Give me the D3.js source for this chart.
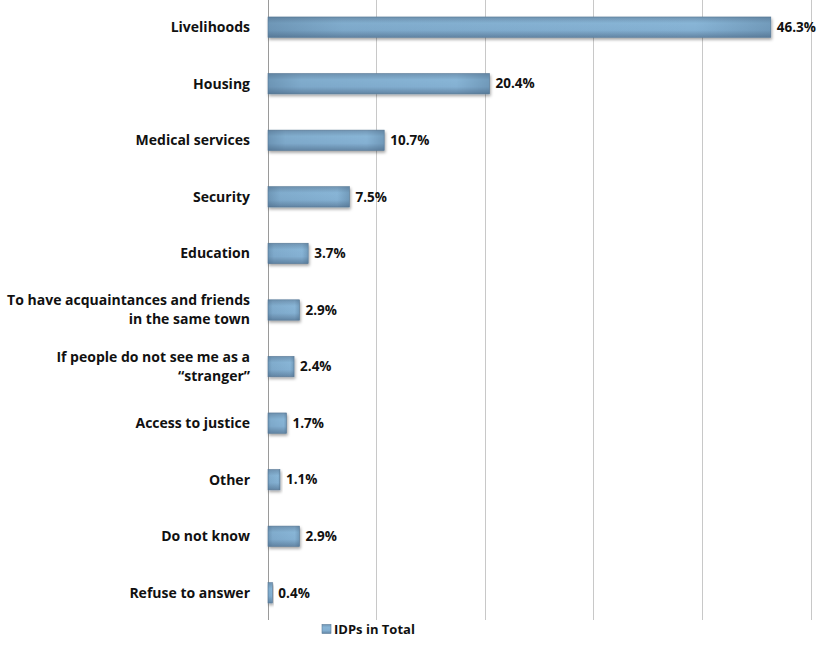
<!DOCTYPE html>
<html>
<head>
<meta charset="utf-8">
<script src="https://cdn.jsdelivr.net/npm/d3@7"></script>
<style>
  body { margin: 0; background: #fff; }
  svg { display: block; }
  text { font-family: "Open Sans", Lato, sans-serif; font-weight: bold; fill: #111; }
</style>
</head>
<body>
<svg id="chart" width="822" height="665"></svg>
<script>
// Reasons to stay / return – share of IDPs in total
const categories = [
  ["Livelihoods"],
  ["Housing"],
  ["Medical services"],
  ["Security"],
  ["Education"],
  ["To have acquaintances and friends", "in the same town"],
  ["If people do not see me as a", "\u201Cstranger\u201D"],
  ["Access to justice"],
  ["Other"],
  ["Do not know"],
  ["Refuse to answer"]
];
const values = [46.3, 20.4, 10.7, 7.5, 3.7, 2.9, 2.4, 1.7, 1.1, 2.9, 0.4];
const xTicks = [0, 10, 20, 30, 40, 50];
const seriesName = "IDPs in Total";

const svg = d3.select("#chart");
const margin = { left: 268, right: 11, top: 0, bottom: 45 };
const W = 822, H = 665;

const x = d3.scaleLinear().domain([0, 50]).range([margin.left, W - margin.right]);
const y = d3.scaleBand().domain(d3.range(values.length))
  .range([margin.top, H - margin.bottom]).paddingInner(0.64).paddingOuter(0.3);

// bar shading and soft shadow
const defs = svg.append("defs");
const g = defs.append("linearGradient").attr("id", "barGrad").attr("x1", 0).attr("y1", 0).attr("x2", 0).attr("y2", 1);
g.append("stop").attr("offset", "0%").attr("stop-color", "#7195b3");
g.append("stop").attr("offset", "30%").attr("stop-color", "#88b5d6");
g.append("stop").attr("offset", "65%").attr("stop-color", "#84b0d2");
g.append("stop").attr("offset", "100%").attr("stop-color", "#6386a5");
const gh = defs.append("linearGradient").attr("id", "barEdge").attr("x1", 0).attr("y1", 0).attr("x2", 1).attr("y2", 0);
gh.append("stop").attr("offset", "0%").attr("stop-color", "#3f5f7c").attr("stop-opacity", 0.35);
gh.append("stop").attr("offset", "15%").attr("stop-color", "#3f5f7c").attr("stop-opacity", 0.1);
gh.append("stop").attr("offset", "85%").attr("stop-color", "#3f5f7c").attr("stop-opacity", 0.0);
gh.append("stop").attr("offset", "100%").attr("stop-color", "#3f5f7c").attr("stop-opacity", 0.3);
const f = defs.append("filter").attr("id", "shadow").attr("x", "-10%").attr("y", "-30%").attr("width", "130%").attr("height", "180%");
f.append("feDropShadow").attr("dx", 1).attr("dy", 2).attr("stdDeviation", 1.5).attr("flood-color", "#000").attr("flood-opacity", 0.35);

// vertical gridlines
svg.append("g").selectAll("line").data(xTicks).join("line")
  .attr("x1", d => x(d)).attr("x2", d => x(d))
  .attr("y1", margin.top).attr("y2", H - margin.bottom)
  .attr("stroke", d => d === 0 ? "#9a9a9a" : "#c8c8c8").attr("stroke-width", 1)
  .attr("shape-rendering", "crispEdges");

// bars
const bars = svg.append("g").selectAll("g").data(values).join("g");
bars.append("rect")
  .attr("x", x(0)).attr("y", (d, i) => y(i))
  .attr("width", d => x(d) - x(0)).attr("height", y.bandwidth())
  .attr("fill", "url(#barGrad)").attr("stroke", "#5b7c99").attr("stroke-width", 0.6)
  .attr("filter", "url(#shadow)");
bars.append("rect")
  .attr("x", x(0)).attr("y", (d, i) => y(i))
  .attr("width", d => x(d) - x(0)).attr("height", y.bandwidth())
  .attr("fill", "url(#barEdge)");

// value labels
svg.append("g").selectAll("text").data(values).join("text")
  .attr("x", d => x(d) + 6).attr("y", (d, i) => y(i) + y.bandwidth() / 2)
  .attr("dy", "0.35em").attr("font-size", 13.5)
  .text(d => d.toFixed(1) + "%");

// category labels
const labels = svg.append("g").selectAll("text").data(categories).join("text")
  .attr("text-anchor", "end").attr("font-size", 14)
  .attr("y", (d, i) => y(i) + y.bandwidth() / 2);
labels.each(function(lines) {
  const t = d3.select(this);
  const n = lines.length;
  lines.forEach((ln, k) => {
    t.append("tspan").attr("x", 250)
      .attr("dy", k === 0 ? ((0.35 - (n - 1) * 0.68) + "em") : "1.36em")
      .text(ln);
  });
});

// legend
const leg = svg.append("g").attr("transform", "translate(322,629)");
leg.append("rect").attr("x", 0).attr("y", -4.5).attr("width", 9).attr("height", 9)
  .attr("fill", "url(#barGrad)").attr("stroke", "#5b7c99").attr("stroke-width", 0.6);
leg.append("text").attr("x", 12).attr("dy", "0.35em").attr("font-size", 13).text(seriesName);
</script>
</body>
</html>
